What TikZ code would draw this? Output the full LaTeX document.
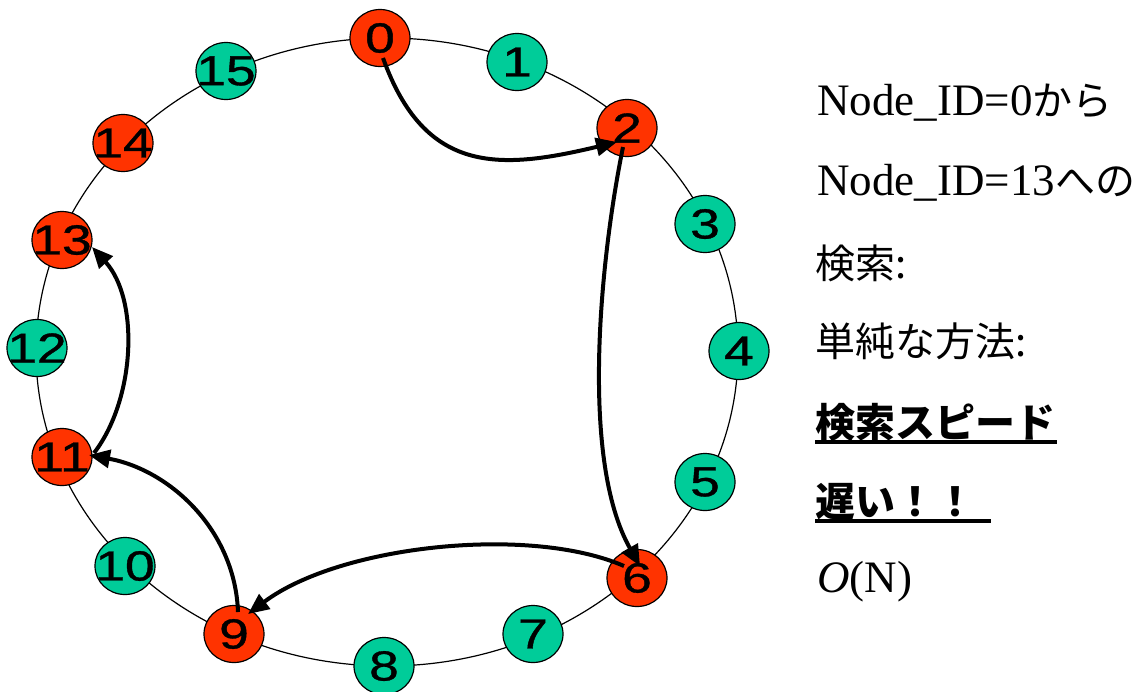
\documentclass[tikz,border=0pt]{standalone}
\usepackage{fontspec}
\usetikzlibrary{shapes.geometric,arrows.meta,calc}
\newfontfamily\digitfont{Liberation Sans}[FakeBold=0.8]
\newfontfamily\serif{Liberation Serif}
\newfontfamily\jp{Noto Sans CJK JP}
\definecolor{nodered}{HTML}{FF3300}
\definecolor{nodegreen}{HTML}{00CC99}
% label of a ring node: zero width so the ellipse keeps its size
\newcommand\ringlabel[1]{\raisebox{-1.8pt}{\makebox[0pt]{\scalebox{1.27}[1]{#1}}}}
\tikzset{
  peer/.style={ellipse, draw, line width=0.6pt, minimum width=30pt,
    minimum height=28.5pt, inner sep=0pt,
    font=\digitfont\fontsize{21pt}{22pt}\selectfont},
  live/.style={peer, fill=nodered},
  idle/.style={peer, fill=nodegreen},
  hop/.style={line width=2pt, -{Triangle[length=10.5pt,width=9pt]}},
  txt/.style={anchor=base west, inner sep=0pt},
  uline/.style={line width=2pt},
}
\begin{document}
\begin{tikzpicture}[x=0.5pt,y=-0.5pt]
\useasboundingbox (0,0) rectangle (1144,691);

% the ring
\draw[line width=0.6pt] (387,352) ellipse [x radius=175.5pt, y radius=157pt];

% ring nodes
\node[live] (n0)  at (380,38)  {\ringlabel{0}};
\node[idle] (n1)  at (517,62)  {\ringlabel{1}};
\node[live] (n2)  at (627,128) {\ringlabel{2}};
\node[idle] (n3)  at (705,224) {\ringlabel{3}};
\node[idle] (n4)  at (739,351) {\ringlabel{4}};
\node[idle] (n5)  at (705,482) {\ringlabel{5}};
\node[live] (n6)  at (637,578) {\ringlabel{6}};
\node[idle] (n7)  at (533,634) {\ringlabel{7}};
\node[idle] (n8)  at (384,666) {\ringlabel{8}};
\node[live] (n9)  at (234,634) {\ringlabel{9}};
\node[idle] (n10) at (125,566) {\ringlabel{10}};
\node[live] (n11) at (62,457)  {\ringlabel{11}};
\node[idle] (n12) at (37,348)  {\ringlabel{12}};
\node[live] (n13) at (62,240)  {\ringlabel{13}};
\node[live] (n14) at (123,143) {\ringlabel{14}};
\node[idle] (n15) at (226,71)  {\ringlabel{15}};

% lookup hops 0 -> 2 -> 6 -> 9 -> 11 -> 13
\draw[hop] ($(n0.center)+(3,20)$) .. controls (425,175) and (500,170) .. ($(n2.center)+(-10,14)$);
\draw[hop] ($(n2.center)+(-4,19)$) .. controls (600,260) and (580,460) .. ($(n6.center)+(3,-12)$);
\draw[hop] ($(n6.center)+(-13,-12)$) .. controls (530,525) and (340,545) .. ($(n9.center)+(14,-20)$);
\draw[hop] ($(n9.center)+(4,-22)$) .. controls (235,530) and (170,470) .. ($(n11.center)+(27,-2)$);
\draw[hop] ($(n11.center)+(32,-4)$) .. controls (135,400) and (140,300) .. ($(n13.center)+(30,7)$);

% explanation
\node[txt] (t1) at (817,115) {{\serif\fontsize{22.5pt}{24pt}\selectfont Node\_ID=0}{\jp\fontsize{20pt}{24pt}\selectfont から}};
\node[txt] (t2) at (817,195) {{\serif\fontsize{22.5pt}{24pt}\selectfont Node\_ID=13}{\jp\fontsize{20pt}{24pt}\selectfont への}};
\node[txt] (t3) at (815,278) {\jp\fontsize{20pt}{24pt}\selectfont 検索:};
\node[txt] (t4) at (815,356) {\jp\fontsize{20pt}{24pt}\selectfont 単純な方法:};
\node[txt] (t5) at (815,437) {\jp\bfseries\fontsize{20pt}{24pt}\selectfont 検索スピード};
\node[txt] (t6) at (815,516) {\jp\bfseries\fontsize{20pt}{24pt}\selectfont 遅い！！};
\node[txt] (t7) at (817,592) {\serif\fontsize{22.5pt}{24pt}\selectfont{\itshape O}(N)};

% underlines
\draw[uline] ($(t5.base west)+(0,5)$) -- ++(242,0);
\draw[uline] ($(t6.base west)+(0,5)$) -- ++(176,0);
\end{tikzpicture}
\end{document}
